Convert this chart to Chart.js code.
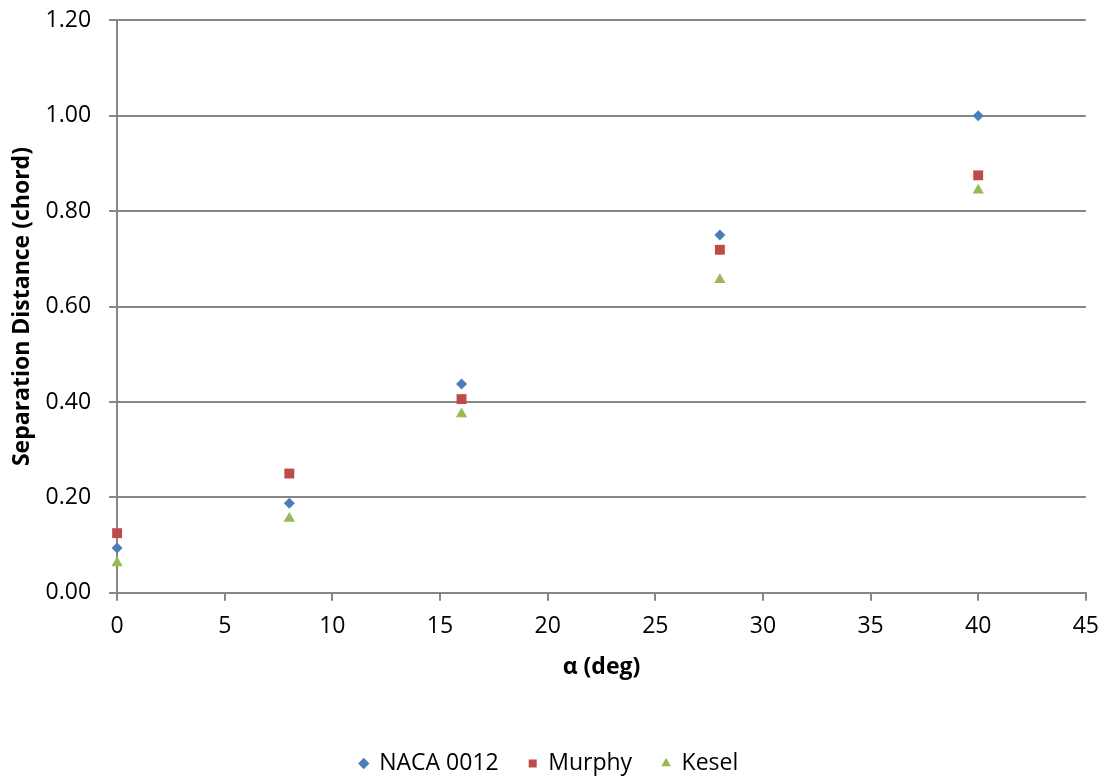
<!DOCTYPE html>
<html>
<head>
<meta charset="utf-8">
<script src="https://cdn.jsdelivr.net/npm/chart.js@4/dist/chart.umd.min.js"></script>
<style>
  html, body { margin: 0; padding: 0; background: #fff; }
  #wrap { width: 1111px; height: 776px; }
</style>
</head>
<body>
<div id="wrap"><canvas id="myChart" width="1111" height="776"></canvas></div>
<script>
// angle of attack (deg) and separation distance (chord)
const alphaDeg = [0, 8, 16, 28, 40];
const naca0012 = [0.094, 0.1875, 0.4375, 0.75, 1.0];
const murphy = [0.125, 0.25, 0.406, 0.719, 0.875];
const kesel = [0.0625, 0.156, 0.375, 0.656, 0.844];

const toPoints = vals => alphaDeg.map((a, i) => ({ x: a, y: vals[i] }));

const font = "'Open Sans', 'Liberation Sans', sans-serif";
const gridColor = '#868686';

const ctx = document.getElementById('myChart').getContext('2d');
const myChart = new Chart(ctx, {
  type: 'scatter',
  data: {
    datasets: [
      {
        label: 'NACA 0012',
        data: toPoints(naca0012),
        pointStyle: 'rectRot',
        pointRadius: 5.5,
        backgroundColor: '#4A7EBB',
        borderColor: '#4A7EBB',
        borderWidth: 0,
      },
      {
        label: 'Murphy',
        data: toPoints(murphy),
        pointStyle: 'rect',
        pointRadius: 7,
        backgroundColor: '#BE4B48',
        borderColor: '#BE4B48',
        borderWidth: 0,
      },
      {
        label: 'Kesel',
        data: toPoints(kesel),
        pointStyle: 'triangle',
        pointRadius: 6.5,
        backgroundColor: '#98B954',
        borderColor: '#98B954',
        borderWidth: 0,
      }
    ]
  },
  options: {
    responsive: false,
    animation: false,
    clip: false,
    layout: { padding: { left: 9, right: 22, top: 0, bottom: -9 } },
    plugins: {
      tooltip: { enabled: false },
      legend: {
        position: 'bottom',
        labels: {
          usePointStyle: true,
          boxHeight: 8,
          boxWidth: 8,
          padding: 30,
          color: '#000',
          font: { family: font, size: 23 },
        }
      }
    },
    scales: {
      x: {
        type: 'linear',
        min: 0,
        max: 45,
        ticks: { stepSize: 5, color: '#000', font: { family: font, size: 23 }, padding: 12 },
        grid: { drawOnChartArea: false, color: gridColor, tickLength: 8, lineWidth: 2 },
        border: { color: gridColor, width: 2 },
        title: {
          display: true,
          text: 'α (deg)',
          color: '#000',
          font: { family: font, size: 23, weight: 'bold' },
          padding: { top: 1, bottom: 41 }
        }
      },
      y: {
        min: 0,
        max: 1.2,
        ticks: {
          stepSize: 0.2,
          color: '#000',
          // small lineHeight keeps the top gridline close to the canvas edge
          font: { family: font, size: 23, lineHeight: 0.2 },
          padding: 18,
          callback: v => v.toFixed(2)
        },
        grid: { color: gridColor, tickLength: 8, lineWidth: 2 },
        border: { color: gridColor, width: 2 },
        title: {
          display: true,
          text: 'Separation Distance (chord)',
          color: '#000',
          font: { family: font, size: 23, weight: 'bold' },
          padding: { top: 0, bottom: -9 }
        }
      }
    }
  }
});
</script>
</body>
</html>
